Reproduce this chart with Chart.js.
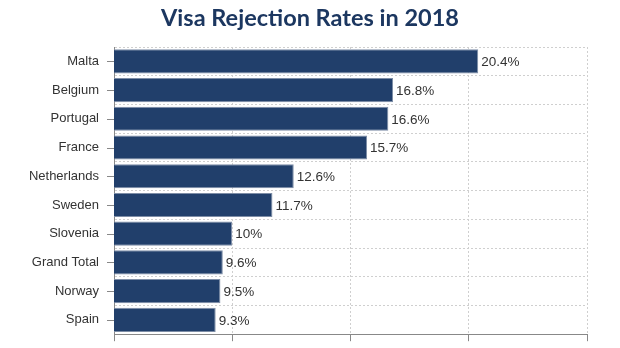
<!DOCTYPE html>
<html>
<head>
<meta charset="utf-8">
<script src="https://cdn.jsdelivr.net/npm/chart.js@4/dist/chart.umd.min.js"></script>
<style>
  html, body { margin: 0; padding: 0; background: #fff; overflow: hidden; }
  #wrap { position: relative; width: 620px; height: 357px; }
  #title {
    position: absolute; left: 0; top: 3px; width: 620px;
    text-align: center; margin: 0;
    font: bold 23.5px Lato, sans-serif; line-height: 28px;
    color: #1c3760;
  }
</style>
</head>
<body>
<div id="wrap">
  <h2 id="title">Visa Rejection Rates in 2018</h2>
  <canvas id="visaChart"></canvas>
</div>
<script>
// rejection rates per country, 2018
const countries = ['Malta', 'Belgium', 'Portugal', 'France', 'Netherlands', 'Sweden', 'Slovenia', 'Grand Total', 'Norway', 'Spain'];
const rates = [20.4, 16.8, 16.6, 15.7, 12.6, 11.7, 10, 9.6, 9.5, 9.3];
const xTicks = [5, 10, 15, 20, 25];

const navy = '#213f6b';

// value label at the end of each bar
const barLabels = {
  id: 'barLabels',
  afterDatasetsDraw(chart){
    const ctx = chart.ctx;
    const meta = chart.getDatasetMeta(0);
    ctx.save();
    ctx.font = '13.5px Arial, "Liberation Sans", sans-serif';
    ctx.fillStyle = '#333';
    ctx.textAlign = 'left';
    ctx.textBaseline = 'middle';
    meta.data.forEach((bar, i)=>{
      ctx.fillText(rates[i] + '%', bar.x + 3, bar.y + 1);
    });
    ctx.restore();
  }
};

// small tick marks at the category centres on the y axis
const yTickMarks = {
  id: 'yTickMarks',
  afterDraw(chart){
    const ctx = chart.ctx;
    const y = chart.scales.y;
    ctx.save();
    ctx.strokeStyle = '#888';
    ctx.lineWidth = 1;
    countries.forEach((c, i)=>{
      const py = Math.round(y.getPixelForValue(i)) + 0.5;
      ctx.beginPath();
      ctx.moveTo(y.right - 7, py);
      ctx.lineTo(y.right, py);
      ctx.stroke();
    });
    ctx.restore();
  }
};

new Chart(document.getElementById('visaChart').getContext('2d'), {
  type: 'bar',
  data: {
    labels: countries,
    datasets: [{
      data: rates,
      backgroundColor: navy,
      borderColor: '#7d8da6',
      borderWidth: 1,
      borderSkipped: false,
      barPercentage: 0.84,
      categoryPercentage: 1
    }]
  },
  options: {
    indexAxis: 'y',
    responsive: true,
    maintainAspectRatio: false,
    animation: false,
    layout: { padding: { left: 0, right: 33, top: 47, bottom: 0 } },
    plugins: {
      legend: { display: false },
      tooltip: { enabled: false },
      title: { display: false }
    },
    scales: {
      x: {
        min: 5,
        max: 25,
        afterBuildTicks(scale){ scale.ticks = xTicks.map(v=>({ value: v })); },
        ticks: { display: false },
        grid: {
          color: '#cfcfcf',
          lineWidth: 1,
          drawTicks: true,
          tickLength: 7,
          tickColor: '#888',
          tickBorderDash: []
        },
        border: { display: true, color: '#888', width: 1, dash: [2, 2] }
      },
      y: {
        afterFit(scale){ scale.width = 114; },
        ticks: {
          color: '#333',
          padding: 15,
          font: { family: 'Arial, "Liberation Sans", sans-serif', size: 13 }
        },
        grid: {
          offset: true,
          color: '#cfcfcf',
          lineWidth: 1,
          drawTicks: false
        },
        border: { display: true, color: '#888', width: 1, dash: [2, 2] }
      }
    }
  },
  plugins: [barLabels, yTickMarks]
});
</script>
</body>
</html>
